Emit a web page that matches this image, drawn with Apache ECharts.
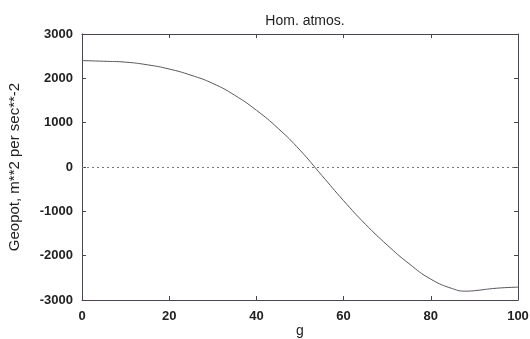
<!DOCTYPE html>
<html><head><meta charset="utf-8">
<script src="https://cdn.jsdelivr.net/npm/echarts@6/dist/echarts.min.js"></script>
<style>html,body{margin:0;padding:0;background:#fff}#c{width:530px;height:339px}</style>
</head><body><div id="c"></div>
<script>
const xValues = [0,5,10,15,20,25,30,35,40,45,50,55,60,65,70,75,80,85,88,90,95,100];
const geopot = [2400,2385,2365,2305,2210,2070,1885,1620,1280,870,380,-190,-760,-1290,-1760,-2180,-2530,-2745,-2800,-2790,-2735,-2710];
const titleText = "Hom. atmos.";
const xName = "g";
const yName = "Geopot, m**2 per sec**-2";

const chart = echarts.init(document.getElementById('c'), null, {renderer:'canvas'});
const axisCol = '#4a4450';
const font = 'Liberation Sans, Arial, sans-serif';
const common = {
  axisLine:{show:true,onZero:false,lineStyle:{color:axisCol,width:1}},
  axisTick:{show:true,inside:true,length:4,lineStyle:{color:axisCol}},
  splitLine:{show:false}
};
chart.setOption({
  animation:false,
  backgroundColor:'#fff',
  title:{text:titleText,left:300,top:9,textAlign:'center',textStyle:{fontFamily:font,fontSize:14,fontWeight:'normal',color:'#222'}},
  grid:{left:82,right:12,top:34,bottom:39,containLabel:false,outerBoundsMode:'none'},
  xAxis:[
    Object.assign({type:'value',min:0,max:100,interval:20,position:'bottom',
      name:xName,nameLocation:'middle',nameGap:24,nameMoveOverlap:false,
      nameTextStyle:{fontFamily:font,fontSize:14,color:'#222'},
      axisLabel:{fontFamily:font,fontSize:13,fontWeight:'bold',color:'#222',margin:10}},common),
    Object.assign({type:'value',min:0,max:100,interval:20,position:'top',axisLabel:{show:false}},common)
  ],
  yAxis:[
    Object.assign({type:'value',min:-3000,max:3000,interval:1000,position:'left',
      name:yName,nameLocation:'middle',nameGap:60,nameMoveOverlap:false,
      nameTextStyle:{fontFamily:font,fontSize:15,color:'#222'},
      axisLabel:{fontFamily:font,fontSize:13,fontWeight:'bold',color:'#222',margin:9,formatter:v=>String(v)}},common),
    Object.assign({type:'value',min:-3000,max:3000,interval:1000,position:'right',axisLabel:{show:false}},common)
  ],
  series:[{
    type:'line',
    data:xValues.map((x,i)=>[x,geopot[i]]),
    smooth:true,
    showSymbol:false,
    lineStyle:{color:'#5a5560',width:1},
    markLine:{
      silent:true,symbol:'none',label:{show:false},
      lineStyle:{color:'#777',type:[2,3],width:1},
      data:[{yAxis:0}]
    }
  }]
});
</script></body></html>
